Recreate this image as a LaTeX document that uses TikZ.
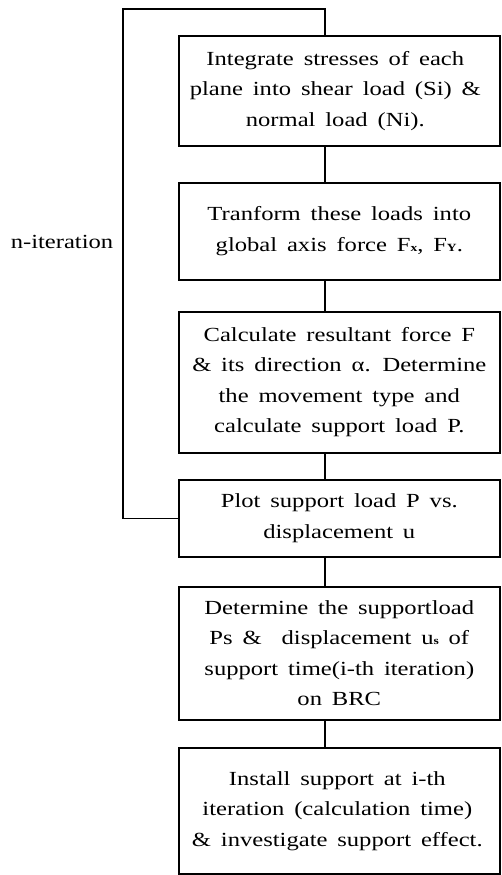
\documentclass[tikz,border=0pt]{standalone}
\usepackage{fontspec}
\setmainfont[WordSpace=1.6,FakeStretch=1.23]{Liberation Serif}
\begin{document}
\begin{tikzpicture}[x=1pt,y=-1pt,
  flowbox/.style={draw, line width=1.6pt, minimum width=321pt, inner sep=0pt, anchor=north west},
  flowtext/.style={align=center, font=\fontsize{20}{30.5}\selectfont},
  link/.style={line width=1.6pt}]
\useasboundingbox (0,0) rectangle (501,875);
\coordinate (cx) at (325,0);
\coordinate (loopL) at (123,9);
\node[flowbox, minimum height=110pt] (b1) at (178,35) {};
\node[flowbox, minimum height=97pt] (b2) at (178,182) {};
\node[flowbox, minimum height=141pt] (b3) at (178,311) {};
\node[flowbox, minimum height=77pt] (b4) at (178,479) {};
\node[flowbox, minimum height=133pt] (b5) at (178,586) {};
\node[flowbox, minimum height=126pt] (b6) at (178,747) {};
\node[flowtext] (t1) at ([xshift=-4pt]b1.center) {Integrate stresses of each\\plane into shear load (Si) \&\\normal load (Ni).};
\node[flowtext] (t2) at (b2.center) {Tranform these loads into\\global axis force F{\fontsize{11}{11}\selectfont\bfseries x}, F{\fontsize{11}{11}\selectfont\bfseries Y}.};
\node[flowtext] (t3) at (b3.center) {Calculate resultant force F\\\& its direction α. Determine\\the movement type and\\calculate support load P.};
\node[flowtext] (t4) at (b4.center) {Plot support load P vs.\\displacement u};
\node[flowtext] (t5) at (b5.center) {Determine the supportload\\Ps \&\quad displacement u{\fontsize{11}{11}\selectfont\bfseries s} of\\support time(i-th iteration)\\on BRC};
\node[flowtext] (t6) at ([xshift=-2pt]b6.center) {Install support at i-th\\iteration (calculation time)\\\& investigate support effect.};
\node[flowtext] (lbl) at (62,242) {n-iteration};
\draw[link] (b1.south -| cx) -- (b2.north -| cx);
\draw[link] (b2.south -| cx) -- (b3.north -| cx);
\draw[link] (b3.south -| cx) -- (b4.north -| cx);
\draw[link] (b4.south -| cx) -- (b5.north -| cx);
\draw[link] (b5.south -| cx) -- (b6.north -| cx);
\draw[link] (b1.north -| cx) |- (loopL) |- (b4.west);
\end{tikzpicture}
\end{document}
